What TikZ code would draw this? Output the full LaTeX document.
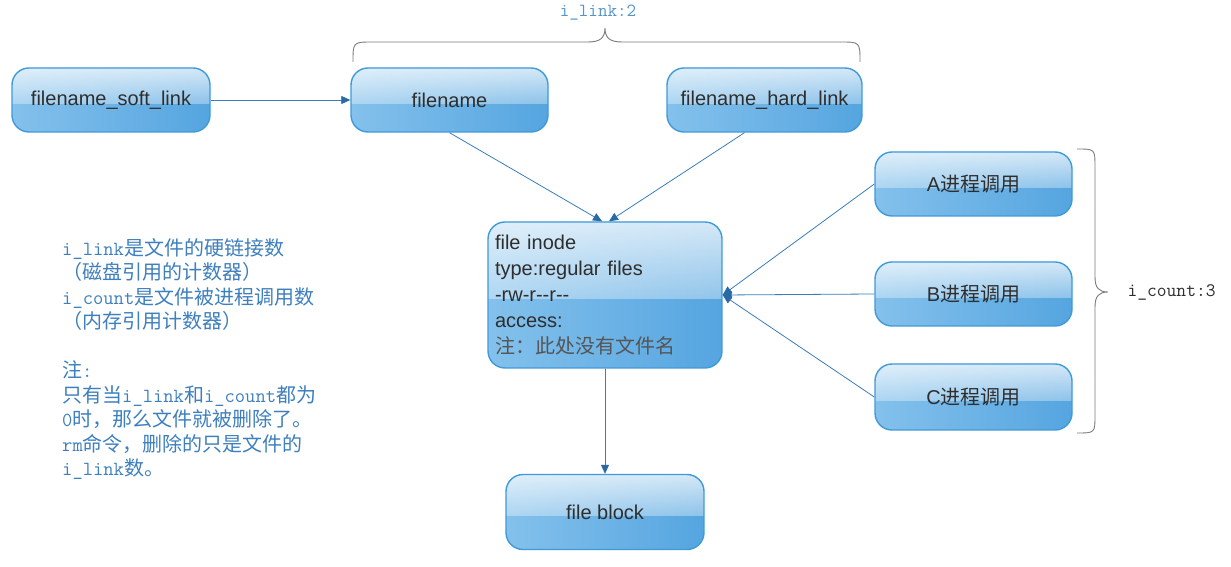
\documentclass[tikz,border=0pt]{standalone}
\usepackage{fontspec}
\setmainfont{Liberation Sans}
\newfontfamily\cjk{Noto Sans CJK SC}
\usetikzlibrary{arrows.meta,fadings}
\definecolor{bborder}{HTML}{3F9ADA}
\definecolor{bleft}{HTML}{84C1EC}
\definecolor{bright}{HTML}{55A5E0}
\definecolor{tgray}{HTML}{2E2E2E}
\definecolor{notegray}{HTML}{555555}
\definecolor{lnc}{HTML}{3B7DB9}
\definecolor{arrc}{HTML}{2A6AA4}
\definecolor{notec}{HTML}{3E7FBE}
\definecolor{linkc}{HTML}{5595CC}
\definecolor{bracec}{HTML}{7A7A7A}
\newcommand\zh[1]{{\cjk #1}}
\newcommand\tm[1]{{\ttfamily\fontsize{20}{24.5}\selectfont #1}}
\begin{document}
\begin{tikzpicture}[x=1pt,y=1pt,
 gbox/.style={draw=bborder, line width=1.4pt, rounded corners=17pt, left color=bleft, right color=bright, text=tgray, font=\fontsize{20}{24}\selectfont, inner sep=0pt,
   path picture={\fill[white, sharp corners, path fading=south, opacity=0.75] (path picture bounding box.north west) rectangle ([yshift=-4pt]path picture bounding box.east);}},
 conn/.style={draw=lnc, line width=0.8pt, -{Triangle[length=9pt,width=8pt,fill=arrc,color=arrc]}},
 brc/.style={draw=bracec, line width=0.9pt},
]
\useasboundingbox (0,0) rectangle (1231,567);
\fill[white] (0,0) rectangle (1231,567);

\node[gbox, minimum width=198pt, minimum height=64pt] (sl) at (111,467) {filename\_soft\_link};
\node[gbox, minimum width=197pt, minimum height=64pt] (fn) at (449.5,467) {filename};
\node[gbox, minimum width=195pt, minimum height=64pt] (hl) at (764.5,467) {filename\_hard\_link};
\node[gbox, minimum width=234pt, minimum height=146pt, text width=220pt, align=left, inner xsep=7pt, font=\fontsize{20}{25.8}\selectfont] (in) at (605,272)
  {file inode\\type:regular files\\-rw-r-{}-r-{}-\\access:\\\textcolor{notegray}{\zh{注：此处没有文件名}}};
\node[gbox, minimum width=198pt, minimum height=75pt] (fb) at (605,55) {file block};
\node[gbox, minimum width=197pt, minimum height=64pt] (pa) at (973.5,383) {A\zh{进程调用}};
\node[gbox, minimum width=197pt, minimum height=64pt] (pb) at (973.5,273) {B\zh{进程调用}};
\node[gbox, minimum width=197pt, minimum height=66pt] (pc) at (973.5,170) {C\zh{进程调用}};

\draw[conn] (sl.east) -- (fn.west);
\draw[conn] (fn.south) -- ([xshift=-3pt]in.north);
\draw[conn] ([xshift=-20pt]hl.south) -- ([xshift=4pt]in.north);
\draw[conn] (pa.west) -- (in.east);
\draw[conn] (pb.west) -- (in.east);
\draw[conn] (pc.west) -- (in.east);
\draw[conn] (in.south) -- (fb.north);

% top brace
\draw[brc] (353,505) .. controls (353,525) .. (373,525) -- (588,525) .. controls (600,525) and (605,529) .. (605,539) .. controls (605,529) and (610,525) .. (622,525) -- (840,525) .. controls (860,525) .. (860,505);
\node[text=linkc, font=\ttfamily\fontsize{18.5}{20}\selectfont] (ilink) at (598,554) {i\_link:2};

% right brace
\draw[brc] (1077,418) .. controls (1095,418) .. (1095,400) -- (1095,290) .. controls (1095,279) and (1099,275) .. (1108,275) .. controls (1099,275) and (1095,271) .. (1095,260) -- (1095,152) .. controls (1095,134) .. (1077,134);
\node[anchor=west, text=tgray, font=\ttfamily\fontsize{19}{20}\selectfont] (icount) at (1124,275) {i\_count:3};

% left note
\node[anchor=north west, inner sep=0pt, align=left, text=notec, font=\cjk\fontsize{20}{24.5}\selectfont] (note) at (62,329)
 {\tm{i\_link}是文件的硬链接数\\
  （磁盘引用的计数器）\\
  \tm{i\_count}是文件被进程调用数\\
  （内存引用计数器）\\[24.5pt]
  注\tm{:}\\
  只有当\tm{i\_link}和\tm{i\_count}都为\\
  \tm{0}时，那么文件就被删除了。\\
  \tm{rm}命令，删除的只是文件的\\
  \tm{i\_link}数。};
\end{tikzpicture}
\end{document}
